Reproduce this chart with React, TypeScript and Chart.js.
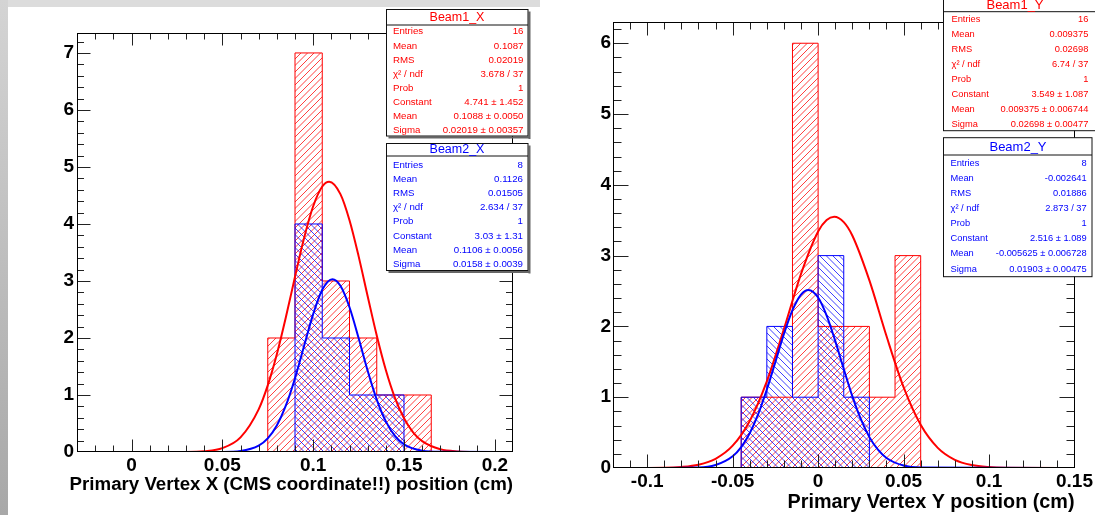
import React, { useEffect, useRef } from "react";
import { Chart, registerables } from "chart.js";

Chart.register(...registerables);

const FONT = "'Liberation Sans', Arial, Helvetica, sans-serif";
const RED = "#ff0000";
const BLUE = "#0000ff";

// ---------- Left panel: Primary Vertex X ----------
const xBinEdges = [-0.03, -0.015, 0, 0.015, 0.03, 0.045, 0.06, 0.075, 0.09, 0.105, 0.12, 0.135, 0.15, 0.165, 0.18, 0.195, 0.21];
const beam1XCounts = [0, 0, 0, 0, 0, 0, 0, 2, 7, 3, 2, 1, 1, 0, 0, 0];
const beam2XCounts = [0, 0, 0, 0, 0, 0, 0, 0, 4, 2, 1, 1, 0, 0, 0, 0];
const beam1XFitX = [-0.03, 0.03, 0.04, 0.05, 0.06, 0.07, 0.075, 0.08, 0.085, 0.09, 0.095, 0.1, 0.105, 0.1088, 0.115, 0.12, 0.125, 0.13, 0.135, 0.14, 0.145, 0.15, 0.155, 0.16, 0.17, 0.18, 0.19, 0.21];
const beam1XFitY = [0, 0.002, 0.014, 0.068, 0.256, 0.748, 1.168, 1.714, 2.367, 3.073, 3.754, 4.311, 4.658, 4.741, 4.523, 4.065, 3.436, 2.732, 2.043, 1.437, 0.95, 0.591, 0.346, 0.19, 0.048, 0.009, 0.001, 0];
const beam2XFitX = [-0.03, 0.05, 0.06, 0.07, 0.075, 0.08, 0.085, 0.09, 0.095, 0.1, 0.105, 0.1106, 0.115, 0.12, 0.125, 0.13, 0.135, 0.14, 0.145, 0.15, 0.16, 0.17, 0.21];
const beam2XFitY = [0, 0.002, 0.018, 0.112, 0.239, 0.465, 0.816, 1.295, 1.861, 2.419, 2.846, 3.03, 2.915, 2.539, 2.0, 1.426, 0.92, 0.537, 0.283, 0.135, 0.023, 0.003, 0];
const xPanelXTicks = [0, 0.05, 0.1, 0.15, 0.2];
const xPanelXLabels = ["0", "0.05", "0.1", "0.15", "0.2"];
const xPanelYTicks = [0, 1, 2, 3, 4, 5, 6, 7];
const xPanelYLabels = ["0", "1", "2", "3", "4", "5", "6", "7"];

const beam1XStats = [
  ["Entries", "16"], ["Mean", "0.1087"], ["RMS", "0.02019"], ["χ² / ndf", "3.678 / 37"],
  ["Prob", "1"], ["Constant", "4.741 ± 1.452"], ["Mean", "0.1088 ± 0.0050"], ["Sigma", "0.02019 ± 0.00357"],
];
const beam2XStats = [
  ["Entries", "8"], ["Mean", "0.1126"], ["RMS", "0.01505"], ["χ² / ndf", "2.634 / 37"],
  ["Prob", "1"], ["Constant", "3.03 ± 1.31"], ["Mean", "0.1106 ± 0.0056"], ["Sigma", "0.0158 ± 0.0039"],
];

// ---------- Right panel: Primary Vertex Y ----------
const yBinEdges = [-0.12, -0.105, -0.09, -0.075, -0.06, -0.045, -0.03, -0.015, 0, 0.015, 0.03, 0.045, 0.06, 0.075, 0.09, 0.105, 0.12, 0.135, 0.15];
const beam1YCounts = [0, 0, 0, 0, 0, 1, 1, 6, 2, 2, 1, 3, 0, 0, 0, 0, 0, 0];
const beam2YCounts = [0, 0, 0, 0, 0, 1, 2, 1, 3, 1, 0, 0, 0, 0, 0, 0, 0, 0];
const beam1YFitX = [-0.12, -0.09, -0.08, -0.07, -0.06, -0.05, -0.04, -0.03, -0.02, -0.01, 0, 0.005, 0.009375, 0.015, 0.02, 0.03, 0.04, 0.05, 0.06, 0.07, 0.08, 0.09, 0.1, 0.11, 0.15];
const beam1YFitY = [0, 0.004, 0.015, 0.047, 0.13, 0.315, 0.665, 1.224, 1.962, 2.742, 3.341, 3.503, 3.549, 3.473, 3.284, 2.65, 1.864, 1.142, 0.61, 0.284, 0.115, 0.041, 0.013, 0.004, 0];
const beam2YFitX = [-0.12, -0.07, -0.06, -0.05, -0.045, -0.04, -0.035, -0.03, -0.025, -0.02, -0.015, -0.01, -0.005625, 0, 0.005, 0.01, 0.015, 0.02, 0.025, 0.03, 0.035, 0.04, 0.05, 0.06, 0.15];
const beam2YFitY = [0, 0.008, 0.042, 0.166, 0.296, 0.492, 0.764, 1.108, 1.498, 1.892, 2.229, 2.45, 2.516, 2.409, 2.153, 1.796, 1.398, 1.016, 0.689, 0.436, 0.258, 0.142, 0.035, 0.007, 0];
const yPanelXTicks = [-0.1, -0.05, 0, 0.05, 0.1, 0.15];
const yPanelXLabels = ["-0.1", "-0.05", "0", "0.05", "0.1", "0.15"];
const yPanelYTicks = [0, 1, 2, 3, 4, 5, 6];
const yPanelYLabels = ["0", "1", "2", "3", "4", "5", "6"];

const beam1YStats = [
  ["Entries", "16"], ["Mean", "0.009375"], ["RMS", "0.02698"], ["χ² / ndf", "6.74 / 37"],
  ["Prob", "1"], ["Constant", "3.549 ± 1.087"], ["Mean", "0.009375 ± 0.006744"], ["Sigma", "0.02698 ± 0.00477"],
];
const beam2YStats = [
  ["Entries", "8"], ["Mean", "-0.002641"], ["RMS", "0.01886"], ["χ² / ndf", "2.873 / 37"],
  ["Prob", "1"], ["Constant", "2.516 ± 1.089"], ["Mean", "-0.005625 ± 0.006728"], ["Sigma", "0.01903 ± 0.00475"],
];

type Box = {
  title: string; color: string; rows: string[][];
  left: number; right: number; top: number; sep: number; bottom: number;
  titleX: number; titleY: number; rowY0: number; rowStep: number;
  labelX: number; valueX: number; font: number; titleFont: number; shadow: boolean;
};

type PanelCfg = {
  canvasLeft: number; width: number; height: number;
  area: { left: number; top: number; right: number; bottom: number };
  xMin: number; xMax: number; yMax: number;
  xTicks: number[]; xLabels: string[]; yTicks: number[]; yLabels: string[];
  xMinor: number; yMinor: number;
  edges: number[]; h1: number[]; h2: number[];
  f1x: number[]; f1y: number[]; f2x: number[]; f2y: number[];
  xTitle: string; xTitleSize: number; xTitleBaseline: number;
  xMajorLen: number; xMinorLen: number; yMajorLen: number; yMinorLen: number;
  xLabelPad: number; yLabelPad: number;
  boxes: Box[];
};

const leftCfg: PanelCfg = {
  canvasLeft: 0, width: 540, height: 515,
  area: { left: 77, top: 33, right: 513, bottom: 452 },
  xMin: -0.03, xMax: 0.21, yMax: 7.35,
  xTicks: xPanelXTicks, xLabels: xPanelXLabels, yTicks: xPanelYTicks, yLabels: xPanelYLabels,
  xMinor: 0.01, yMinor: 0.2,
  edges: xBinEdges, h1: beam1XCounts, h2: beam2XCounts,
  f1x: beam1XFitX, f1y: beam1XFitY, f2x: beam2XFitX, f2y: beam2XFitY,
  xTitle: "Primary Vertex X (CMS coordinate!!) position (cm)", xTitleSize: 18.7, xTitleBaseline: 490,
  xMajorLen: 12, xMinorLen: 6, yMajorLen: 13, yMinorLen: 6.5,
  xLabelPad: 2, yLabelPad: 3,
  boxes: [
    {
      title: "Beam1_X", color: RED, rows: beam1XStats,
      left: 386.5, right: 528, top: 9.5, sep: 25, bottom: 136,
      titleX: 457, titleY: 17.7, rowY0: 31.7, rowStep: 14.15,
      labelX: 393, valueX: 523.5, font: 9.7, titleFont: 12.5, shadow: true,
    },
    {
      title: "Beam2_X", color: BLUE, rows: beam2XStats,
      left: 386.5, right: 528, top: 143.5, sep: 156, bottom: 270.5,
      titleX: 457, titleY: 150, rowY0: 165, rowStep: 14.2,
      labelX: 393, valueX: 523, font: 9.7, titleFont: 12.5, shadow: true,
    },
  ],
};

const rightCfg: PanelCfg = {
  canvasLeft: 540, width: 555, height: 515,
  area: { left: 613, top: 22, right: 1080, bottom: 468 },
  xMin: -0.12, xMax: 0.15, yMax: 6.3,
  xTicks: yPanelXTicks, xLabels: yPanelXLabels, yTicks: yPanelYTicks, yLabels: yPanelYLabels,
  xMinor: 0.01, yMinor: 0.2,
  edges: yBinEdges, h1: beam1YCounts, h2: beam2YCounts,
  f1x: beam1YFitX, f1y: beam1YFitY, f2x: beam2YFitX, f2y: beam2YFitY,
  xTitle: "Primary Vertex Y position (cm)", xTitleSize: 19.8, xTitleBaseline: 508,
  xMajorLen: 13, xMinorLen: 7, yMajorLen: 15, yMinorLen: 8,
  xLabelPad: 2, yLabelPad: 2,
  boxes: [
    {
      title: "Beam1_Y", color: RED, rows: beam1YStats,
      left: 943.5, right: 1100, top: -4, sep: 11.7, bottom: 130.7,
      titleX: 1015, titleY: 5, rowY0: 19.5, rowStep: 14.93,
      labelX: 951.5, valueX: 1088.3, font: 9.3, titleFont: 13, shadow: false,
    },
    {
      title: "Beam2_Y", color: BLUE, rows: beam2YStats,
      left: 943.5, right: 1092, top: 137.7, sep: 155, bottom: 276.7,
      titleX: 1018, titleY: 147.8, rowY0: 163.3, rowStep: 15.1,
      labelX: 950.5, valueX: 1086.7, font: 9.3, titleFont: 13, shadow: false,
    },
  ],
};

function histPoints(edges: number[], counts: number[]) {
  const pts = counts.map((c, i) => ({ x: edges[i], y: c }));
  pts.push({ x: edges[edges.length - 1], y: 0 });
  return pts;
}

function curvePoints(xs: number[], ys: number[]) {
  return xs.map((x, i) => ({ x, y: ys[i] }));
}

// Hatched fill under each histogram, placed with the chart's own scales.
function makeHatchPlugin(cfg: PanelCfg) {
  const hatchBins = (chart: any, counts: number[], color: string, dir: 1 | -1) => {
    const ctx: CanvasRenderingContext2D = chart.ctx;
    const xs = chart.scales.x;
    const ys = chart.scales.y;
    const a = chart.chartArea;
    const y0 = ys.getPixelForValue(0);
    ctx.save();
    ctx.beginPath();
    counts.forEach((c, i) => {
      if (c <= 0) return;
      const xl = xs.getPixelForValue(cfg.edges[i]);
      const xr = xs.getPixelForValue(cfg.edges[i + 1]);
      const yt = ys.getPixelForValue(c);
      ctx.rect(xl, yt, xr - xl, y0 - yt);
    });
    ctx.clip();
    ctx.strokeStyle = color;
    ctx.lineWidth = 1;
    ctx.beginPath();
    const step = 6.5;
    const H = a.bottom - a.top + 20;
    for (let c = -H - 20; c < chart.width + H + 20; c += step) {
      if (dir === 1) {
        // "/" lines
        ctx.moveTo(c, a.bottom + 10);
        ctx.lineTo(c + H, a.bottom + 10 - H);
      } else {
        // "\" lines
        ctx.moveTo(c, a.bottom + 10);
        ctx.lineTo(c - H, a.bottom + 10 - H);
      }
    }
    ctx.stroke();
    ctx.restore();
  };
  return {
    id: "rootHatch",
    beforeDatasetsDraw(chart: any) {
      hatchBins(chart, cfg.h1, "rgba(255,0,0,0.75)", 1);
      hatchBins(chart, cfg.h2, "rgba(0,0,255,0.75)", -1);
    },
  };
}

function makeDecor(cfg: PanelCfg) {
  return {
    id: "rootDecor",
    afterDraw(chart: any) {
      const ctx: CanvasRenderingContext2D = chart.ctx;
      const xs = chart.scales.x;
      const ys = chart.scales.y;
      const a = chart.chartArea;
      const L = Math.round(a.left) + 0.5;
      const R = Math.round(a.right) - 0.5;
      const T = Math.round(a.top) + 0.5;
      const B = Math.round(a.bottom) - 0.5;
      ctx.save();
      ctx.lineWidth = 1;
      ctx.strokeStyle = "#222";
      ctx.beginPath();
      for (let k = Math.ceil(cfg.xMin / cfg.xMinor - 1e-6); k * cfg.xMinor <= cfg.xMax + 1e-9; k++) {
        const v = k * cfg.xMinor;
        const isMajor = cfg.xTicks.some((m) => Math.abs(m - v) < 1e-9);
        const px = Math.round(xs.getPixelForValue(v)) + 0.5;
        if (px <= L + 0.5 || px >= R - 0.5) continue;
        const len = isMajor ? cfg.xMajorLen : cfg.xMinorLen;
        ctx.moveTo(px, B); ctx.lineTo(px, B - len);
        ctx.moveTo(px, T); ctx.lineTo(px, T + len);
      }
      for (let k = 0; k * cfg.yMinor <= cfg.yMax + 1e-9; k++) {
        const v = k * cfg.yMinor;
        const isMajor = cfg.yTicks.some((m) => Math.abs(m - v) < 1e-9);
        const py = Math.round(ys.getPixelForValue(v)) + 0.5;
        if (py >= B + 0.5 || py <= T - 0.5) continue;
        const len = isMajor ? cfg.yMajorLen : cfg.yMinorLen;
        ctx.moveTo(L, py); ctx.lineTo(L + len, py);
        ctx.moveTo(R, py); ctx.lineTo(R - len, py);
      }
      ctx.stroke();
      ctx.strokeStyle = "#000";
      ctx.strokeRect(L, T, R - L, B - T);

      ctx.fillStyle = "#000";
      ctx.font = `bold ${cfg.xTitleSize}px ${FONT}`;
      ctx.textAlign = "right";
      ctx.textBaseline = "alphabetic";
      ctx.fillText(cfg.xTitle, a.right, cfg.xTitleBaseline);

      ctx.translate(-cfg.canvasLeft, 0);
      for (const b of cfg.boxes) {
        const w = b.right - b.left;
        const h = b.bottom - b.top;
        ctx.fillStyle = "#fff";
        ctx.fillRect(b.left, b.top, w, h);
        if (b.shadow) {
          ctx.fillStyle = "#666";
          ctx.fillRect(b.right + 0.5, b.top + 2, 2, h + 1);
          ctx.fillRect(b.left + 2, b.bottom + 0.5, w, 2);
        }
        ctx.strokeStyle = "#111";
        ctx.lineWidth = 1;
        ctx.strokeRect(b.left, b.top, w, h);
        ctx.beginPath();
        ctx.moveTo(b.left, b.sep);
        ctx.lineTo(b.right, b.sep);
        ctx.stroke();
        ctx.fillStyle = b.color;
        ctx.textBaseline = "middle";
        ctx.textAlign = "center";
        ctx.font = `${b.titleFont}px ${FONT}`;
        ctx.fillText(b.title, b.titleX, b.titleY);
        ctx.font = `${b.font}px ${FONT}`;
        b.rows.forEach((r, i) => {
          const y = b.rowY0 + i * b.rowStep;
          ctx.textAlign = "left";
          ctx.fillText(r[0], b.labelX, y);
          ctx.textAlign = "right";
          ctx.fillText(r[1], b.valueX, y);
        });
      }
      ctx.restore();
    },
  };
}

function Panel({ cfg }: { cfg: PanelCfg }) {
  const ref = useRef<HTMLCanvasElement | null>(null);
  useEffect(() => {
    const canvas = ref.current!;
    const a = cfg.area;
    const chart = new Chart(canvas, {
      type: "line",
      data: {
        datasets: [
          {
            data: curvePoints(cfg.f2x, cfg.f2y), borderColor: BLUE, borderWidth: 2, pointRadius: 0,
            fill: false, cubicInterpolationMode: "monotone", order: 1,
          },
          {
            data: curvePoints(cfg.f1x, cfg.f1y), borderColor: RED, borderWidth: 2, pointRadius: 0,
            fill: false, cubicInterpolationMode: "monotone", order: 2,
          },
          {
            data: histPoints(cfg.edges, cfg.h2), borderColor: BLUE, borderWidth: 1, pointRadius: 0,
            fill: false, stepped: "before", order: 3,
          },
          {
            data: histPoints(cfg.edges, cfg.h1), borderColor: RED, borderWidth: 1, pointRadius: 0,
            fill: false, stepped: "before", order: 4,
          },
        ] as any,
      },
      options: {
        responsive: false,
        animation: false,
        events: [],
        layout: { padding: { left: 0, top: a.top, right: cfg.canvasLeft + cfg.width - a.right, bottom: 0 } },
        plugins: { legend: { display: false }, tooltip: { enabled: false }, title: { display: false } },
        scales: {
          x: {
            type: "linear", min: cfg.xMin, max: cfg.xMax,
            grid: { display: false, drawTicks: false }, border: { display: false },
            afterBuildTicks: (s: any) => { s.ticks = cfg.xTicks.map((v) => ({ value: v })); },
            afterFit: (s: any) => { s.height = cfg.height - a.bottom; },
            ticks: {
              autoSkip: false, maxRotation: 0, minRotation: 0, padding: cfg.xLabelPad, color: "#000",
              font: { family: FONT, size: 19, weight: "bold" },
              callback: (v: any) => {
                const i = cfg.xTicks.findIndex((t) => Math.abs(t - Number(v)) < 1e-9);
                return i >= 0 ? cfg.xLabels[i] : "";
              },
            },
          },
          y: {
            type: "linear", min: 0, max: cfg.yMax,
            grid: { display: false, drawTicks: false }, border: { display: false },
            afterBuildTicks: (s: any) => { s.ticks = cfg.yTicks.map((v) => ({ value: v })); },
            afterFit: (s: any) => { s.width = a.left - cfg.canvasLeft; },
            ticks: {
              autoSkip: false, padding: cfg.yLabelPad, color: "#000",
              font: { family: FONT, size: 19, weight: "bold" },
              callback: (v: any) => {
                const i = cfg.yTicks.findIndex((t) => Math.abs(t - Number(v)) < 1e-9);
                return i >= 0 ? cfg.yLabels[i] : "";
              },
            },
          },
        },
      } as any,
      plugins: [makeHatchPlugin(cfg), makeDecor(cfg)],
    });
    return () => chart.destroy();
  }, [cfg]);
  return (
    <canvas
      ref={ref}
      width={cfg.width}
      height={cfg.height}
      style={{ position: "absolute", left: cfg.canvasLeft, top: 0, width: cfg.width, height: cfg.height }}
    />
  );
}

export default function App() {
  return (
    <div
      style={{
        position: "fixed", left: 0, top: 0, width: 1095, height: 515,
        background: "#ffffff", overflow: "hidden",
      }}
    >
      <div style={{ position: "absolute", left: 0, top: 0, width: 540, height: 7, background: "#dcdcdc" }} />
      <div
        style={{
          position: "absolute", left: 0, top: 0, width: 8, height: 515,
          background: "linear-gradient(#d4d4d4, #a8a8a8)",
        }}
      />
      <Panel cfg={leftCfg} />
      <Panel cfg={rightCfg} />
    </div>
  );
}
